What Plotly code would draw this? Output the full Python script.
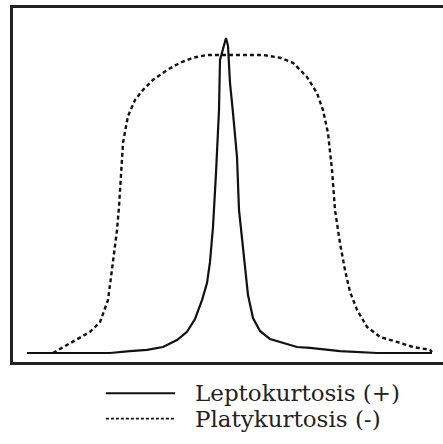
import plotly.graph_objects as go

# Leptokurtic curve (sharp peak, heavy tails)
lepto_x = [-3.98, -2.32, -1.92, -1.58, -1.26, -0.98, -0.78, -0.62, -0.48, -0.38,
           -0.32, -0.26, -0.20, -0.14, -0.12, -0.06, 0.0, 0.04, 0.08, 0.14,
           0.22, 0.26, 0.32, 0.38, 0.44, 0.54, 0.68, 0.88, 1.14, 1.42,
           1.68, 2.28, 3.02, 4.12]
lepto_y = [0.0, 0.0, 0.006, 0.010, 0.019, 0.041, 0.067, 0.108, 0.168, 0.222,
           0.289, 0.400, 0.571, 0.771, 0.930, 0.965, 1.0, 0.975, 0.857, 0.762,
           0.622, 0.454, 0.368, 0.279, 0.184, 0.111, 0.070, 0.044, 0.032, 0.019,
           0.016, 0.006, 0.0, 0.0]

# Platykurtic curve (flat top, light tails)
platy_x = [-3.46, -3.22, -2.92, -2.72, -2.52, -2.42, -2.36, -2.32, -2.26, -2.22,
           -2.18, -2.14, -2.12, -2.08, -2.06, -2.02, -1.96, -1.82, -1.66, -1.46,
           -1.18, -0.92, -0.66, -0.38, 0.74, 1.08, 1.34, 1.62, 1.82, 1.94,
           2.04, 2.12, 2.18, 2.28, 2.38, 2.48, 2.62, 2.82, 3.08, 3.42,
           3.74, 4.08, 4.12]
platy_y = [0.0, 0.022, 0.048, 0.067, 0.098, 0.143, 0.168, 0.216, 0.289, 0.333,
           0.390, 0.463, 0.517, 0.603, 0.667, 0.702, 0.752, 0.803, 0.835, 0.867,
           0.898, 0.921, 0.937, 0.946, 0.946, 0.937, 0.921, 0.876, 0.825, 0.771,
           0.698, 0.581, 0.454, 0.349, 0.263, 0.194, 0.137, 0.083, 0.051, 0.035,
           0.019, 0.010, 0.003]

legend_labels = ["Leptokurtosis (+)", "Platykurtosis (-)"]

fig = go.Figure()
fig.add_trace(go.Scatter(x=lepto_x, y=lepto_y, mode="lines",
                         line=dict(color="#111111", width=2.2),
                         name=legend_labels[0], showlegend=False))
fig.add_trace(go.Scatter(x=platy_x, y=platy_y, mode="lines",
                         line=dict(color="#111111", width=2.4, dash="4px,3px"),
                         name=legend_labels[1], showlegend=False))

# hand-drawn legend with long line samples below the frame
legend_rows = [(-0.088, "solid"), (-0.160, "3px,2px")]
for (yy, dash), label in zip(legend_rows, legend_labels):
    fig.add_shape(type="line", xref="paper", yref="paper",
                  x0=0.216, x1=0.377, y0=yy, y1=yy,
                  line=dict(color="#111111", width=2 if dash == "solid" else 1.8,
                            dash=dash))
    fig.add_annotation(xref="paper", yref="paper", x=0.418, y=yy,
                       xanchor="left", yanchor="middle", showarrow=False,
                       text=label,
                       font=dict(family="DejaVu Serif, serif", size=23, color="#222222"))

fig.update_layout(
    width=443, height=444,
    margin=dict(l=13, r=0, t=8, b=82),
    paper_bgcolor="white", plot_bgcolor="white",
    showlegend=False,
    xaxis=dict(range=[-4.26, 4.34], showgrid=False, zeroline=False,
               showticklabels=False, ticks="", showline=True, mirror=True,
               linecolor="#222222", linewidth=2.5),
    yaxis=dict(range=[-0.0286, 1.095], showgrid=False, zeroline=False,
               showticklabels=False, ticks="", showline=True, mirror=False,
               linecolor="#222222", linewidth=2.5),
)

fig.write_html("out.html")
